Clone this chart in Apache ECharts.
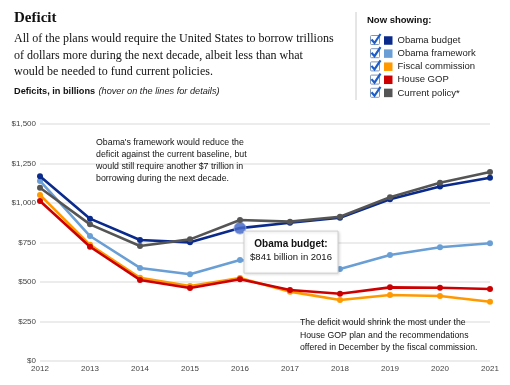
<!DOCTYPE html>
<html>
<head>
<meta charset="utf-8">
<script src="https://cdn.jsdelivr.net/npm/echarts@6/dist/echarts.min.js"></script>
<style>
html,body{margin:0;padding:0;background:#fff;}
#c{width:510px;height:385px;}
</style>
</head>
<body>
<div id="c"></div>
<script>
// ---- data ----
var years = ['2012','2013','2014','2015','2016','2017','2018','2019','2020','2021'];
var seriesNames = ['Obama budget','Obama framework','Fiscal commission','House GOP','Current policy*'];
var obamaBudget      = [1170, 901, 766, 751, 841, 875, 907, 1023, 1105, 1160];
var obamaFramework   = [1140, 791, 589, 549, 639, 610, 582, 671, 720, 745];
var fiscalCommission = [1051, 735, 527, 475, 525, 439, 386, 418, 411, 375];
var houseGOP         = [1013, 723, 513, 462, 517, 449, 426, 466, 464, 456];
var currentPolicy    = [1097, 865, 728, 770, 892, 882, 913, 1036, 1128, 1196];
var yTicks = [0, 250, 500, 750, 1000, 1250, 1500];
var highlightIndex = 4; // 2016, Obama budget

var colors = ['#0a2a8c', '#6a9fd6', '#ff9900', '#cc0000', '#555555'];
var sans = '"Liberation Sans", Arial, sans-serif';
var serif = '"Liberation Serif", "Times New Roman", serif';

var chart = echarts.init(document.getElementById('c'), null, {renderer: 'canvas'});

function mkSeries(name, data, color, z) {
  return {
    name: name, type: 'line', data: data, z: z,
    symbol: 'circle', symbolSize: 6, showSymbol: true,
    lineStyle: {width: 2.6, color: color},
    itemStyle: {color: color},
    emphasis: {disabled: true},
    animation: false
  };
}

var budgetData = obamaBudget.map(function (v, i) {
  if (i === highlightIndex) {
    return {value: v, symbolSize: 12, itemStyle: {color: 'rgba(70,105,200,0.85)', borderColor: 'rgba(150,170,230,0.8)', borderWidth: 1}};
  }
  return v;
});

function fmtMoney(v) {
  return '$' + String(v).replace(/\B(?=(\d{3})+(?!\d))/g, ',');
}

// checkbox graphics
var checkGraphics = [];
for (var i = 0; i < seriesNames.length; i++) {
  var cy = 40 + i * 13.2;
  checkGraphics.push({
    type: 'rect', shape: {x: 370.5, y: cy - 4.5, width: 9, height: 9, r: 1},
    style: {fill: '#ffffff', stroke: '#7d96bd', lineWidth: 1}
  });
  checkGraphics.push({
    type: 'polyline', shape: {points: [[371.5, cy - 0.5], [374.5, cy + 3], [380.5, cy - 6]]},
    style: {stroke: '#1c5ec9', lineWidth: 2.2, fill: null}
  });
}

var option = {
  backgroundColor: '#ffffff',
  animation: false,
  color: colors,
  grid: {left: 40, right: 20, top: 124, bottom: 24, containLabel: false},
  xAxis: {
    type: 'category', data: years, boundaryGap: false,
    axisLine: {show: false}, axisTick: {show: false},
    axisLabel: {fontSize: 8, color: '#444', fontFamily: sans, margin: 4}
  },
  yAxis: {
    type: 'value', min: 0, max: 1500, interval: 250,
    axisLine: {show: false}, axisTick: {show: false},
    axisLabel: {fontSize: 8, color: '#444', fontFamily: sans, margin: 4,
      formatter: function (v) { return yTicks.indexOf(v) >= 0 ? fmtMoney(v) : ''; }},
    splitLine: {lineStyle: {color: '#e6e6e6', width: 1.5}}
  },
  legend: {
    orient: 'vertical', left: 384, top: 35.5, padding: 0,
    itemWidth: 8.5, itemHeight: 8.5, itemGap: 3.1, icon: 'rect',
    selectedMode: false,
    textStyle: {fontSize: 9.5, color: '#222', fontFamily: sans, lineHeight: 9},
    data: seriesNames
  },
  series: [
    mkSeries(seriesNames[1], obamaFramework, colors[1], 2),
    mkSeries(seriesNames[2], fiscalCommission, colors[2], 3),
    mkSeries(seriesNames[3], houseGOP, colors[3], 4),
    mkSeries(seriesNames[0], budgetData, colors[0], 5),
    mkSeries(seriesNames[4], currentPolicy, colors[4], 6)
  ],
  graphic: [
    {type: 'text', style: {x: 14, y: 11, text: 'Deficit', font: 'bold 15px ' + serif, fill: '#111'}},
    {type: 'text', style: {x: 14, y: 31, text: 'All of the plans would require the United States to borrow trillions\nof dollars more during the next decade, albeit less than what\nwould be needed to fund current policies.', font: '12px ' + serif, fill: '#111', lineHeight: 16.5}},
    {type: 'text', style: {x: 14, y: 85, rich: {b: {font: 'bold 9.2px ' + sans, fill: '#111'}, i: {font: 'italic 9.2px ' + sans, fill: '#222'}}, text: '{b|Deficits, in billions} {i|(hover on the lines for details)}'}},
    {type: 'line', shape: {x1: 356, y1: 12, x2: 356, y2: 100}, style: {stroke: '#cccccc', lineWidth: 1}},
    {type: 'text', style: {x: 367, y: 15, text: 'Now showing:', font: 'bold 9.5px ' + sans, fill: '#111'}},
    {type: 'text', style: {x: 96, y: 137, text: "Obama's framework would reduce the\ndeficit against the current baseline, but\nwould still require another $7 trillion in\nborrowing during the next decade.", font: '8.8px ' + sans, fill: '#111', lineHeight: 12}},
    {type: 'text', style: {x: 300, y: 316.5, text: 'The deficit would shrink the most under the\nHouse GOP plan and the recommendations\noffered in December by the fiscal commission.', font: '8.7px ' + sans, fill: '#111', lineHeight: 12.5}}
  ].concat(checkGraphics)
};

chart.setOption(option);

// tooltip box anchored at the highlighted data point
var p = chart.convertToPixel({seriesIndex: 3}, [highlightIndex, obamaBudget[highlightIndex]]);
var bx = p[0] + 4, by = p[1] + 3, bw = 94, bh = 42;
var gr = option.graphic.concat([
  {type: 'rect', z: 100, shape: {x: bx, y: by, width: bw, height: bh},
   style: {fill: '#ffffff', stroke: '#d0d0d0', lineWidth: 1, shadowBlur: 3, shadowColor: 'rgba(0,0,0,0.15)', shadowOffsetX: 1, shadowOffsetY: 1}},
  {type: 'text', z: 101, style: {x: bx + bw / 2, y: by + 13, text: 'Obama budget:', font: 'bold 10px ' + sans, fill: '#111', textAlign: 'center', textVerticalAlign: 'middle'}},
  {type: 'text', z: 101, style: {x: bx + bw / 2, y: by + 26, text: fmtMoney(obamaBudget[highlightIndex]) + ' billion in ' + years[highlightIndex], font: '9.5px ' + sans, fill: '#111', textAlign: 'center', textVerticalAlign: 'middle'}}
]);
chart.setOption({graphic: gr}, {replaceMerge: ['graphic']});
</script>
</body>
</html>
